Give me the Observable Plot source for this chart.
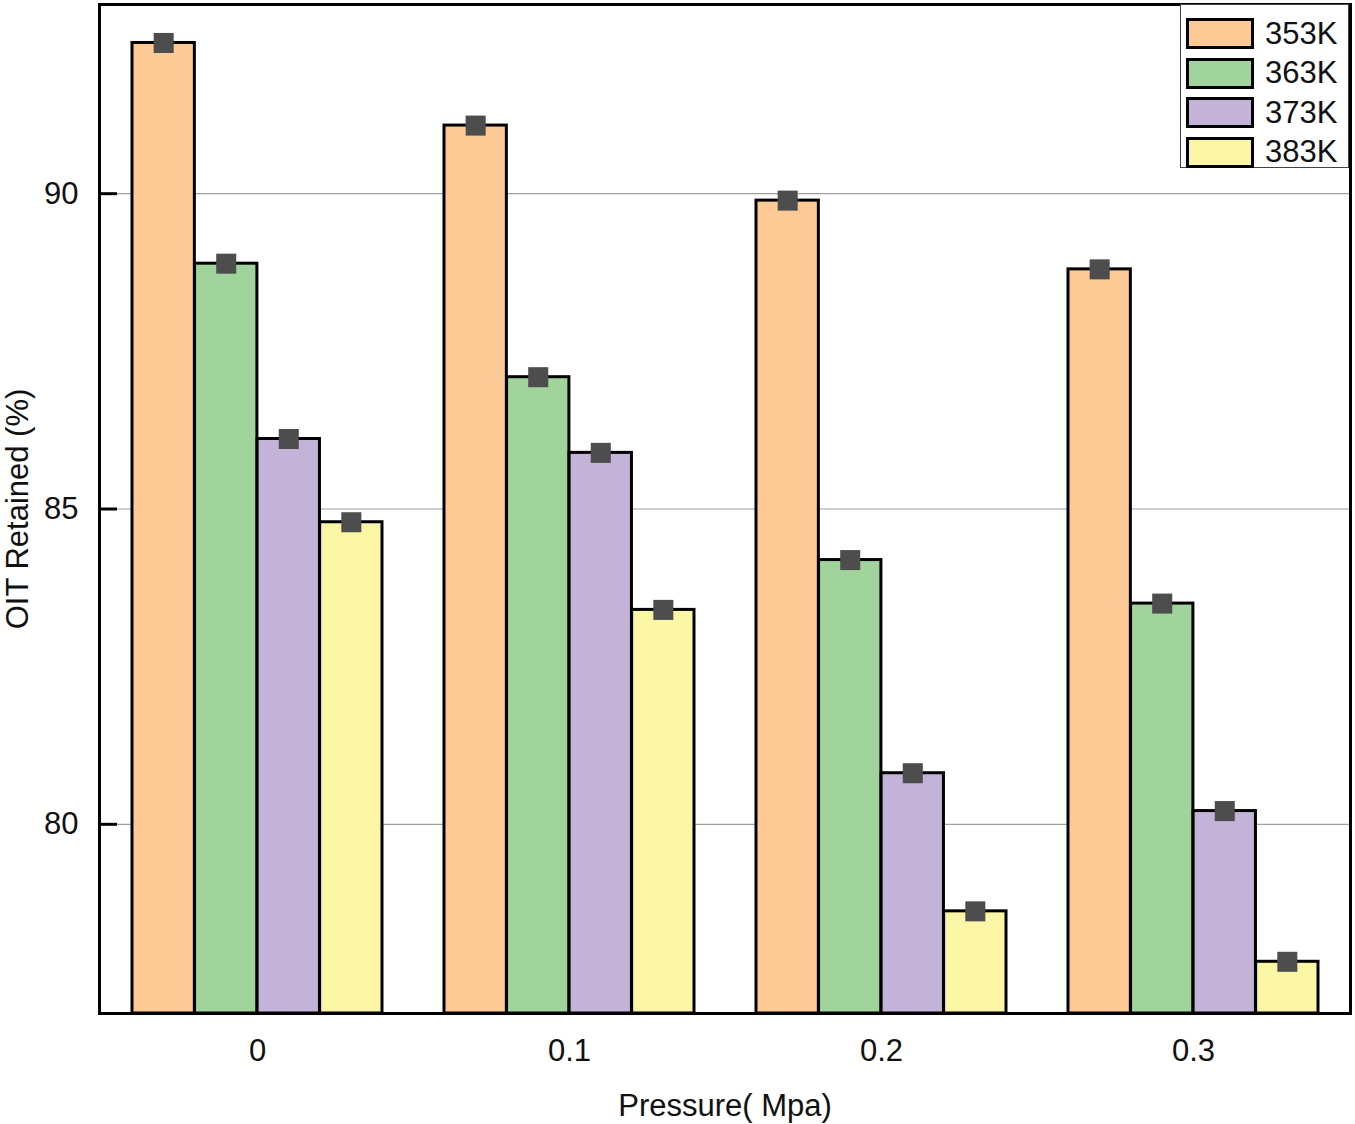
<!DOCTYPE html>
<html>
<head>
<meta charset="utf-8">
<script src="https://cdn.jsdelivr.net/npm/d3@7"></script>
<script src="https://cdn.jsdelivr.net/npm/@observablehq/plot@0.6"></script>
<style>
  body { margin: 0; background: #fff; font-family: "Liberation Sans", Arial, sans-serif; }
  #wrap { position: relative; width: 1355px; height: 1124px; }
  #legend { position: absolute; left: 1180px; top: 4px; width: 169px; height: 164px;
            border: 1px solid #444; box-sizing: border-box; background: #fff; padding-top: 9px; }
  .row { display: flex; align-items: center; height: 39.5px; }
  .sw { width: 68px; height: 31px; border: 3px solid #000; box-sizing: border-box; margin-left: 5px; }
  .lab { font-size: 31px; margin-left: 11px; color: #111; }
</style>
</head>
<body>
<div id="wrap"></div>
<script>
const pressures = ["0", "0.1", "0.2", "0.3"];
const temps = ["353K", "363K", "373K", "383K"];
const v353 = [92.39, 91.08, 89.89, 88.80];
const v363 = [88.89, 87.09, 84.19, 83.50];
const v373 = [86.11, 85.89, 80.81, 80.21];
const v383 = [84.79, 83.40, 78.62, 77.82];
const colors = ["#FDCA96", "#A1D49C", "#C3B3D8", "#FBF5A6"];
const yDomain = [77, 93];
const yTicks = [80, 85, 90];

const seriesValues = [v353, v363, v373, v383];

const W = 1355, H = 1124, mL = 99, mR = 5, mT = 4, mB = 111;
const padInner = 0.2, padOuter = 0.1;
const bandwidth = d3.scaleBand().domain(pressures).range([0, W - mL - mR])
  .paddingInner(padInner).paddingOuter(padOuter).bandwidth();
const barW = bandwidth / temps.length;

const font = "'Liberation Sans', Arial, sans-serif";

const seriesMarks = [];
temps.forEach((t, j) => {
  const rows = pressures.map((p, i) => ({pressure: p, temp: t, value: seriesValues[j][i]}));
  seriesMarks.push(Plot.barY(rows, {
    x: "pressure", y1: yDomain[0], y2: "value", fill: "temp",
    stroke: "#000", strokeWidth: 3,
    insetLeft: j * barW, insetRight: (temps.length - 1 - j) * barW
  }));
});
temps.forEach((t, j) => {
  const rows = pressures.map((p, i) => ({pressure: p, temp: t, value: seriesValues[j][i]}));
  seriesMarks.push(Plot.dot(rows, {
    x: "pressure", y: "value", symbol: "square", r: 11.3,
    fill: "#4d4d4d", stroke: "none",
    dx: (j - (temps.length - 1) / 2) * barW
  }));
});

const chart = Plot.plot({
  width: W,
  height: H,
  marginLeft: mL,
  marginRight: mR,
  marginTop: mT,
  marginBottom: mB,
  style: {fontFamily: font, fontSize: "31px", color: "#111", background: "#fff"},
  x: {domain: pressures, paddingInner: padInner, paddingOuter: padOuter},
  y: {domain: yDomain},
  color: {domain: temps, range: colors},
  marks: [
    Plot.ruleY(yTicks, {stroke: "#a0a0a0", strokeWidth: 1.2}),
    ...seriesMarks,
    Plot.ruleY(yTicks, {stroke: "#000", strokeWidth: 3, insetRight: W - mL - mR - 18}),
    Plot.frame({stroke: "#000", strokeWidth: 3}),
    Plot.axisY({ticks: yTicks, tickSize: 0, tickPadding: 21, fontSize: 31, label: "OIT Retained (%)", labelAnchor: "center", labelOffset: 94, labelArrow: "none"}),
    Plot.axisX({tickSize: 0, tickPadding: 25, fontSize: 31, label: "Pressure( Mpa)", labelAnchor: "center", labelOffset: 102, labelArrow: "none"})
  ]
});

const wrap = document.getElementById("wrap");
wrap.appendChild(chart);

const legend = document.createElement("div");
legend.id = "legend";
temps.forEach((t, j) => {
  const row = document.createElement("div");
  row.className = "row";
  const sw = document.createElement("div");
  sw.className = "sw";
  sw.style.background = colors[j];
  const lab = document.createElement("span");
  lab.className = "lab";
  lab.textContent = t;
  row.appendChild(sw);
  row.appendChild(lab);
  legend.appendChild(row);
});
wrap.appendChild(legend);
</script>
</body>
</html>
